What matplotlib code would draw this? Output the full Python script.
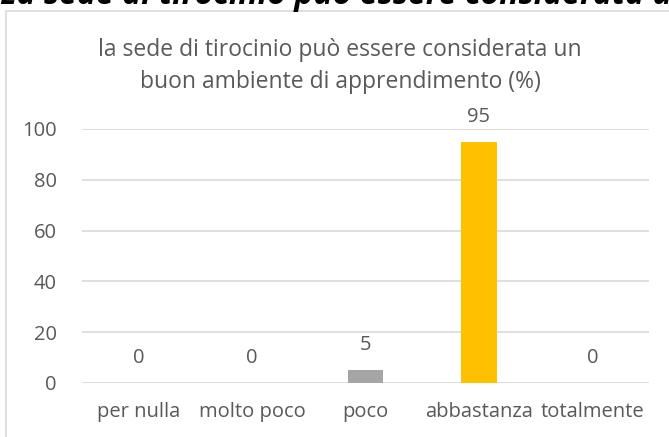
import matplotlib.pyplot as plt
from matplotlib.patches import Rectangle

# Data
categories = ['per nulla', 'molto poco', 'poco', 'abbastanza', 'totalmente']
values = [0, 0, 5, 95, 0]
colors = ['#4472C4', '#ED7D31', '#A5A5A5', '#FFC000', '#5B9BD5']
title = 'la sede di tirocinio può essere considerata un\nbuon ambiente di apprendimento (%)'
header = 'La sede di tirocinio può essere considerata un buon ambiente'

plt.rcParams['font.family'] = ['Open Sans', 'DejaVu Sans']
text_col = '#595959'

fig = plt.figure(figsize=(6.69, 4.37), dpi=100)

# heading cut off at the very top (as in the source)
fig.text(0.0, 1 - 4 / 437, header, fontsize=23, fontweight='bold', fontstyle='italic',
         color='black', va='baseline', ha='left')

# chart frame (left and top edges visible)
fig.patches.append(Rectangle((6 / 669, -0.05), 1.0, 1 - 11 / 437 + 0.05,
                             transform=fig.transFigure, fill=False,
                             edgecolor='#D9D9D9', linewidth=1.2))

ax = fig.add_axes([82 / 669, 1 - 383 / 437, (649 - 82) / 669, (383 - 129) / 437])
x = range(len(categories))
ax.bar(x, values, width=0.317, color=colors, zorder=3)
for xi, v in zip(x, values):
    ax.annotate(str(v), (xi, v), xytext=(0, 18), textcoords='offset points',
                ha='center', va='center', fontsize=14.5, color=text_col)

ax.set_xlim(-0.5, len(categories) - 0.5)
ax.set_ylim(0, 100)
ax.set_yticks(range(0, 101, 20))
ax.set_xticks(list(x))
ax.set_xticklabels(categories)
ax.tick_params(length=0, labelsize=14.5, labelcolor=text_col)
ax.tick_params(axis='y', pad=18)
ax.tick_params(axis='x', pad=14)
ax.grid(True, axis='y', color='#D9D9D9', linewidth=1.2, zorder=0)
for s in ax.spines.values():
    s.set_visible(False)

# chart title, centred on the frame rather than on the plot area
fig.text(340 / 669, 1 - 66 / 437, title, fontsize=16.5, color=text_col,
         ha='center', va='center', linespacing=1.42)

fig.savefig('out.png', dpi=100)
